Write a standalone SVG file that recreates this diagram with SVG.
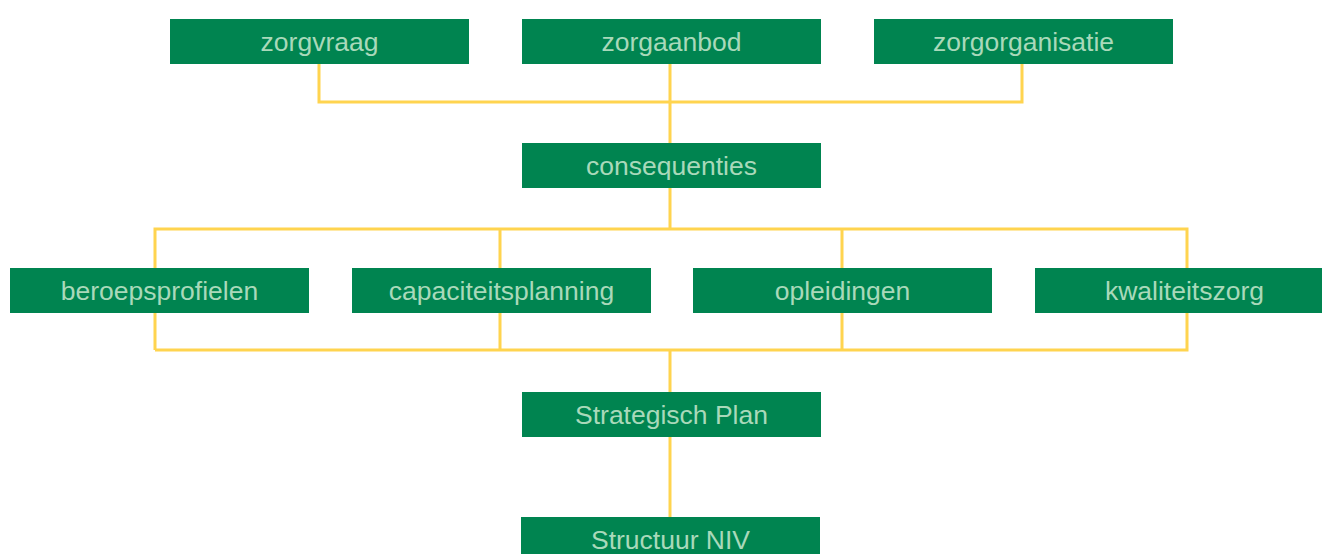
<svg xmlns="http://www.w3.org/2000/svg" width="1322" height="554" viewBox="0 0 1322 554">
<style>
.box{fill:#008450}
.lbl{font-family:"Liberation Sans",Arial,sans-serif;font-size:26.5px;fill:#A9D9BA;text-anchor:middle}
.ln{fill:none;stroke:#FFD44F;stroke-width:3}
</style>
<rect width="1322" height="554" fill="#ffffff"/>
<g id="connectors">
<path class="ln" d="M319,63 V102 H1022 V63 M670,63 V143"/>
<path class="ln" d="M670,188 V229 M155,350 V229 H1187 V350 H155 M500,229 V350 M842,229 V350 M670,350 V392"/>
<path class="ln" d="M670,437 V517"/>
</g>
<g id="zorgvraag"><rect class="box" x="170" y="19" width="299" height="45"/><text class="lbl" x="319.5" y="51">zorgvraag</text></g>
<g id="zorgaanbod"><rect class="box" x="522" y="19" width="299" height="45"/><text class="lbl" x="671.5" y="51">zorgaanbod</text></g>
<g id="zorgorganisatie"><rect class="box" x="874" y="19" width="299" height="45"/><text class="lbl" x="1023.5" y="51">zorgorganisatie</text></g>
<g id="consequenties"><rect class="box" x="522" y="143" width="299" height="45"/><text class="lbl" x="671.5" y="175">consequenties</text></g>
<g id="beroepsprofielen"><rect class="box" x="10" y="268" width="299" height="45"/><text class="lbl" x="159.5" y="300">beroepsprofielen</text></g>
<g id="capaciteitsplanning"><rect class="box" x="352" y="268" width="299" height="45"/><text class="lbl" x="501.5" y="300">capaciteitsplanning</text></g>
<g id="opleidingen"><rect class="box" x="693" y="268" width="299" height="45"/><text class="lbl" x="842.5" y="300">opleidingen</text></g>
<g id="kwaliteitszorg"><rect class="box" x="1035" y="268" width="299" height="45"/><text class="lbl" x="1184.5" y="300">kwaliteitszorg</text></g>
<g id="strategisch-plan"><rect class="box" x="522" y="392" width="299" height="45"/><text class="lbl" x="671.5" y="424">Strategisch Plan</text></g>
<g id="structuur-niv"><rect class="box" x="521" y="517" width="299" height="45"/><text class="lbl" x="670.5" y="549">Structuur NIV</text></g>
</svg>
